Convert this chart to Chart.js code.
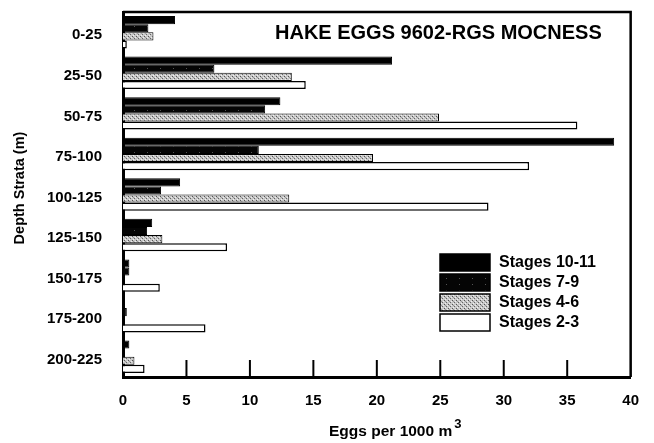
<!DOCTYPE html>
<html>
<head>
<meta charset="utf-8">
<script src="https://cdn.jsdelivr.net/npm/chart.js@4/dist/chart.umd.min.js"></script>
<style>
  html, body { margin: 0; padding: 0; background: #fff; }
</style>
</head>
<body>
<canvas id="chart" width="654" height="443"></canvas>
<script>
const depths = ["0-25", "25-50", "50-75", "75-100", "100-125", "125-150", "150-175", "175-200", "200-225"];
const stages10to11 = [4.1, 21.2, 12.4, 38.7, 4.5, 2.3, 0.5, 0, 0.5];
const stages7to9 = [2.0, 7.2, 11.2, 10.7, 3.0, 1.9, 0.5, 0.3, 0];
const stages4to6 = [2.4, 13.3, 24.9, 19.7, 13.1, 3.1, 0, 0, 0.9];
const stages2to3 = [0.3, 14.4, 35.8, 32.0, 28.8, 8.2, 2.9, 6.5, 1.7];
const xTicks = [0, 5, 10, 15, 20, 25, 30, 35, 40];

const FONT = "'Liberation Sans', Arial, Helvetica, sans-serif";

// small canvas patterns to fake the scanned stipple fills
function makePattern(w, h, base, dots) {
  const c = document.createElement("canvas");
  c.width = w; c.height = h;
  const g = c.getContext("2d");
  g.fillStyle = base;
  g.fillRect(0, 0, w, h);
  dots.forEach(d => {
    g.fillStyle = d[2];
    g.fillRect(d[0], d[1], 1, 1);
  });
  return g.createPattern(c, "repeat");
}
const ctx = document.getElementById("chart").getContext("2d");
const darkFill = makePattern(13, 6, "#050505", [[4, 2, "#555"]]);
const grayFill = makePattern(4, 4, "#c8c8c8", [
  [0, 0, "#555"], [2, 2, "#666"], [3, 1, "#eee"], [1, 3, "#f2f2f2"], [1, 1, "#999"]
]);

const frame = {
  id: "frame",
  afterDatasetsDraw(chart) {
    const { ctx, chartArea: a, scales } = chart;
    ctx.save();
    ctx.strokeStyle = "#000";
    ctx.lineWidth = 2.5;
    ctx.beginPath();
    ctx.moveTo(a.left, a.top);
    ctx.lineTo(a.right, a.top);
    ctx.lineTo(a.right, a.bottom);
    ctx.stroke();
    // inward ticks on the x axis
    ctx.lineWidth = 2;
    xTicks.slice(1, -1).forEach(v => {
      const x = scales.x.getPixelForValue(v);
      ctx.beginPath();
      ctx.moveTo(x, a.bottom);
      ctx.lineTo(x, a.bottom - 17);
      ctx.stroke();
    });

    // title
    ctx.fillStyle = "#000";
    ctx.font = "bold 20px " + FONT;
    ctx.textBaseline = "middle";
    ctx.textAlign = "left";
    ctx.fillText("HAKE EGGS 9602-RGS MOCNESS", 275, 33);

    // legend
    chart.data.datasets.forEach((ds, i) => {
      const top = 254 + i * 20;
      ctx.fillStyle = ds.backgroundColor;
      ctx.fillRect(440, top, 50, 17);
      ctx.lineWidth = 1.5;
      ctx.strokeStyle = "#000";
      ctx.strokeRect(440, top, 50, 17);
      ctx.fillStyle = "#000";
      ctx.font = "bold 16px " + FONT;
      ctx.fillText(ds.label, 499, top + 9);
    });

    // x axis title with superscript
    ctx.font = "bold 15.5px " + FONT;
    const main = "Eggs per 1000 m";
    const w = ctx.measureText(main).width;
    ctx.textBaseline = "alphabetic";
    ctx.fillText(main, 329, 436);
    ctx.font = "bold 13px " + FONT;
    ctx.fillText("3", 329 + w + 2, 428);

    // y axis title
    ctx.translate(20, 188);
    ctx.rotate(-Math.PI / 2);
    ctx.font = "bold 14.5px " + FONT;
    ctx.textAlign = "center";
    ctx.textBaseline = "middle";
    ctx.fillText("Depth Strata (m)", 0, 0);
    ctx.restore();
  }
};

new Chart(ctx, {
  type: "bar",
  data: {
    labels: depths,
    datasets: [
      { label: "Stages 10-11", data: stages10to11, backgroundColor: "#000", borderColor: "#000", borderWidth: 1 },
      { label: "Stages 7-9", data: stages7to9, backgroundColor: darkFill, borderColor: "#000", borderWidth: 1 },
      { label: "Stages 4-6", data: stages4to6, backgroundColor: grayFill, borderColor: "#000", borderWidth: 1 },
      { label: "Stages 2-3", data: stages2to3, backgroundColor: "#fff", borderColor: "#000", borderWidth: 1.5 }
    ]
  },
  options: {
    indexAxis: "y",
    responsive: false,
    animation: false,
    layout: { padding: { left: 0, right: 17, top: 12, bottom: 0 } },
    datasets: { bar: { categoryPercentage: 0.8, barPercentage: 1 } },
    plugins: {
      legend: { display: false },
      tooltip: { enabled: false }
    },
    scales: {
      x: {
        min: 0,
        max: 40,
        afterFit: s => { s.height = 66; },
        afterBuildTicks: s => { s.ticks = xTicks.map(v => ({ value: v })); },
        ticks: { color: "#000", padding: 15, font: { family: FONT, size: 15, weight: "bold" } },
        grid: { display: false, drawTicks: false },
        border: { color: "#000", width: 3 }
      },
      y: {
        afterFit: s => { s.width = 123; s.paddingTop = 0; s.paddingBottom = 0; },
        ticks: { color: "#000", padding: 21, labelOffset: 3, font: { family: FONT, size: 15, weight: "bold" } },
        grid: { display: false, drawTicks: false },
        border: { color: "#000", width: 3 }
      }
    }
  },
  plugins: [frame]
});
</script>
</body>
</html>
